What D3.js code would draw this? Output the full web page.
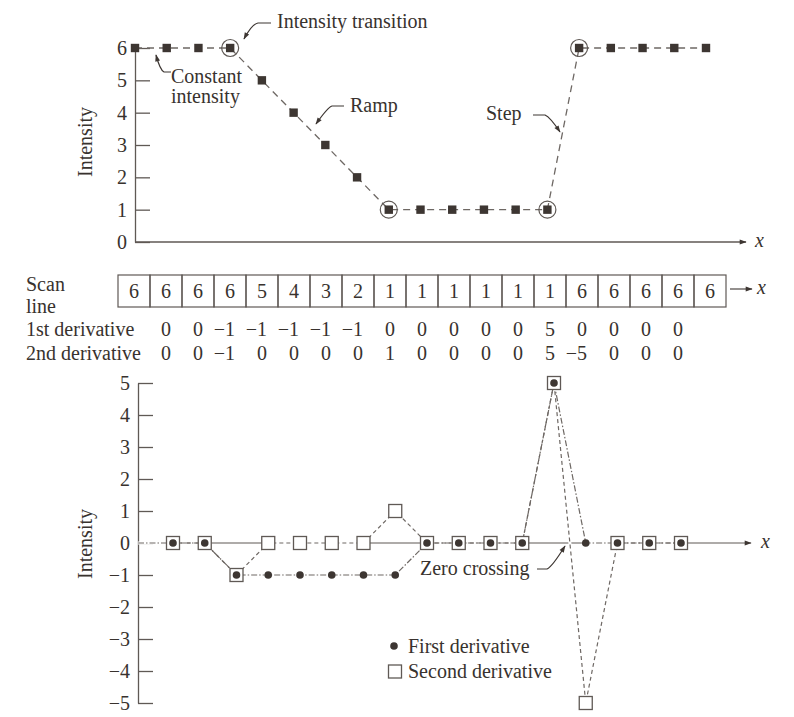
<!DOCTYPE html>
<html><head><meta charset="utf-8">
<script src="https://cdn.jsdelivr.net/npm/d3@7"></script>
<style>
body{margin:0;background:#fff}
svg text{font-family:"Liberation Serif","DejaVu Serif",serif;fill:#38322e}
</style>
</head><body>
<svg id="c" width="794" height="717"></svg>
<script>
// ---------- data ----------
const scanLine = [6,6,6,6,5,4,3,2,1,1,1,1,1,1,6,6,6,6,6];
const transitionIdx = [3, 8, 13, 14];
const firstDeriv  = [0,0,-1,-1,-1,-1,-1,0,0,0,0,0,5,0,0,0,0];   // table row, columns 1..17
const secondDeriv = [0,0,-1,0,0,0,0,1,0,0,0,0,5,-5,0,0,0];      // table row, columns 1..17
const firstDerivPlot  = [0,0,-1,-1,-1,-1,-1,-1,0,0,0,0,5,0,0,0,0]; // as plotted in the lower graph
const secondDerivPlot = [0,0,-1,0,0,0,0,1,0,0,0,0,5,-5,0,0,0];
const topTicks = [0,1,2,3,4,5,6];
const bottomTicks = [-5,-4,-3,-2,-1,0,1,2,3,4,5];
const rowLabels = ["1st derivative","2nd derivative"];
const legendLabels = ["First derivative","Second derivative"];

// ---------- setup ----------
const ink = "#3d3632", lineC = "#5f5955";
const svg = d3.select("#c");
const FS = 20;
const defs = svg.append("defs");
defs.append("marker").attr("id","ah").attr("viewBox","0 0 10 10")
  .attr("refX",9).attr("refY",5).attr("markerWidth",9).attr("markerHeight",7)
  .attr("markerUnits","userSpaceOnUse").attr("orient","auto")
  .append("path").attr("d","M0,1.5L10,5L0,8.5Z").attr("fill",ink);

// ---------- top chart ----------
const xTop = d3.scaleLinear().domain([0,18]).range([135,706]);
const yTop = d3.scaleLinear().domain([0,6]).range([242,48]);
const gT = svg.append("g");
const axT = gT.append("g").attr("transform",`translate(${xTop(0)},0)`)
  .call(d3.axisLeft(yTop).tickValues(topTicks).tickSizeInner(-15).tickSizeOuter(0).tickPadding(8).tickFormat(d3.format("d")));
axT.selectAll("path,line").attr("stroke",lineC).attr("stroke-width",1.3);
axT.selectAll("text").attr("font-size",FS).attr("font-family","Liberation Serif").attr("fill","#38322e");
gT.append("line").attr("x1",xTop(0)).attr("x2",746).attr("y1",yTop(0)).attr("y2",yTop(0))
  .attr("stroke",lineC).attr("stroke-width",1.3).attr("marker-end","url(#ah)");
gT.append("text").attr("x",755).attr("y",yTop(0)+5).attr("font-size",FS).attr("font-style","italic").text("x");
gT.append("text").attr("transform",`translate(92,142) rotate(-90)`).attr("text-anchor","middle")
  .attr("font-size",FS).text("Intensity");

gT.append("path").datum(scanLine)
  .attr("d", d3.line().x((d,i)=>xTop(i)).y(d=>yTop(d)))
  .attr("fill","none").attr("stroke","#6e6864").attr("stroke-width",1.3).attr("stroke-dasharray","7,5");
gT.selectAll("rect.pt").data(scanLine).join("rect").attr("class","pt")
  .attr("x",(d,i)=>xTop(i)-4.2).attr("y",d=>yTop(d)-4.2).attr("width",8.4).attr("height",8.4).attr("fill",ink);
gT.selectAll("circle.tr").data(transitionIdx).join("circle").attr("class","tr")
  .attr("cx",i=>xTop(i)).attr("cy",i=>yTop(scanLine[i])).attr("r",8.5)
  .attr("fill","none").attr("stroke",lineC).attr("stroke-width",1.2);

// annotations (top)
function ann(g, d){ g.append("path").attr("d",d).attr("fill","none").attr("stroke",ink).attr("stroke-width",1.2).attr("marker-end","url(#ah)"); }
gT.append("text").attr("x",277).attr("y",28).attr("font-size",FS).text("Intensity transition");
ann(gT,"M271,23 L258,23 Q252,24 244,39");
gT.append("text").attr("x",171).attr("y",83).attr("font-size",FS).text("Constant");
gT.append("text").attr("x",171).attr("y",103).attr("font-size",FS).text("intensity");
ann(gT,"M171,72 L164,72 Q160,70 156,55");
gT.append("text").attr("x",350).attr("y",112).attr("font-size",FS).text("Ramp");
ann(gT,"M344,106 L332,106 Q328,107 316,124");
gT.append("text").attr("x",486).attr("y",120).attr("font-size",FS).text("Step");
ann(gT,"M533,115 L545,115 Q550,117 560,132");

// ---------- scan line table ----------
const xCell = d3.scaleBand().domain(d3.range(scanLine.length)).range([118,726]);
const gTab = svg.append("g");
gTab.selectAll("rect").data(scanLine).join("rect")
  .attr("x",(d,i)=>xCell(i)).attr("y",275).attr("width",xCell.bandwidth()).attr("height",32)
  .attr("fill","none").attr("stroke",lineC).attr("stroke-width",1.2);
gTab.selectAll("text.v").data(scanLine).join("text").attr("class","v")
  .attr("x",(d,i)=>xCell(i)+xCell.bandwidth()/2).attr("y",298).attr("text-anchor","middle")
  .attr("font-size",FS).text(d=>d);
gTab.append("text").attr("x",26).attr("y",291).attr("font-size",FS).text("Scan");
gTab.append("text").attr("x",26).attr("y",313).attr("font-size",FS).text("line");
gTab.append("line").attr("x1",730).attr("x2",752).attr("y1",289).attr("y2",289)
  .attr("stroke",ink).attr("stroke-width",1.1).attr("marker-end","url(#ah)");
gTab.append("text").attr("x",757).attr("y",294).attr("font-size",FS).attr("font-style","italic").text("x");

const fmt = d3.format("d");
[firstDeriv, secondDeriv].forEach((arr, r)=>{
  const y = 336 + r*24;
  gTab.append("text").attr("x",26).attr("y",y).attr("font-size",FS).text(rowLabels[r]);
  gTab.selectAll("text.r"+r).data(arr).join("text").attr("class","r"+r)
    .attr("x",(d,i)=>xCell(i+1)+xCell.bandwidth()/2+5).attr("y",y).attr("text-anchor","end")
    .attr("font-size",FS).text(d=>fmt(d));
});

// ---------- bottom chart ----------
const xb = d3.scaleLinear().domain([1,17]).range([173,681]);
const yb = d3.scaleLinear().domain([-5,5]).range([703,383]);
const axisX = 138;
const gB = svg.append("g");
const axB = gB.append("g").attr("transform",`translate(${axisX},0)`)
  .call(d3.axisLeft(yb).tickValues(bottomTicks).tickSizeInner(-15).tickSizeOuter(0).tickPadding(8));
axB.selectAll("path,line").attr("stroke",lineC).attr("stroke-width",1.3);
axB.selectAll("text").attr("font-size",FS).attr("font-family","Liberation Serif").attr("fill","#38322e");
gB.append("line").attr("x1",axisX).attr("x2",751).attr("y1",yb(0)).attr("y2",yb(0))
  .attr("stroke",lineC).attr("stroke-width",1.2).attr("marker-end","url(#ah)");
gB.append("text").attr("x",761).attr("y",yb(0)+5).attr("font-size",FS).attr("font-style","italic").text("x");
gB.append("text").attr("transform",`translate(92,544) rotate(-90)`).attr("text-anchor","middle")
  .attr("font-size",FS).text("Intensity");

const fdPts = [[axisX, yb(0)], ...firstDerivPlot.map((v,i)=>[xb(i+1), yb(v)])];
const sdPts = secondDerivPlot.map((v,i)=>[xb(i+1), yb(v)]);
const ln = d3.line();
// white under-strokes so the curves cover the axis
[fdPts, sdPts].forEach(p=>gB.append("path").attr("d",ln(p)).attr("fill","none").attr("stroke","#fff").attr("stroke-width",3));
gB.append("path").attr("d",ln(sdPts)).attr("fill","none").attr("stroke","#6e6864").attr("stroke-width",1.2).attr("stroke-dasharray","4,3");
gB.append("path").attr("d",ln(fdPts)).attr("fill","none").attr("stroke","#6e6864").attr("stroke-width",1.2).attr("stroke-dasharray","6,2,1.5,2");

gB.selectAll("rect.sd").data(secondDerivPlot).join("rect").attr("class","sd")
  .attr("x",(d,i)=>xb(i+1)-6.5).attr("y",d=>yb(d)-6.5).attr("width",13).attr("height",13)
  .attr("fill","#fff").attr("stroke",lineC).attr("stroke-width",1.3);
gB.selectAll("circle.fd").data(firstDerivPlot).join("circle").attr("class","fd")
  .attr("cx",(d,i)=>xb(i+1)).attr("cy",d=>yb(d)).attr("r",3.8).attr("fill",ink);

gB.append("text").attr("x",420).attr("y",575).attr("font-size",FS).text("Zero crossing");
ann(gB,"M537,569 L547,569 Q552,567 565,546");

// legend
gB.append("circle").attr("cx",394).attr("cy",646).attr("r",3.8).attr("fill",ink);
gB.append("text").attr("x",408).attr("y",653).attr("font-size",FS).text(legendLabels[0]);
gB.append("rect").attr("x",388.5).attr("y",665).attr("width",13).attr("height",13)
  .attr("fill","#fff").attr("stroke",lineC).attr("stroke-width",1.3);
gB.append("text").attr("x",408).attr("y",678).attr("font-size",FS).text(legendLabels[1]);
</script>
</body></html>
